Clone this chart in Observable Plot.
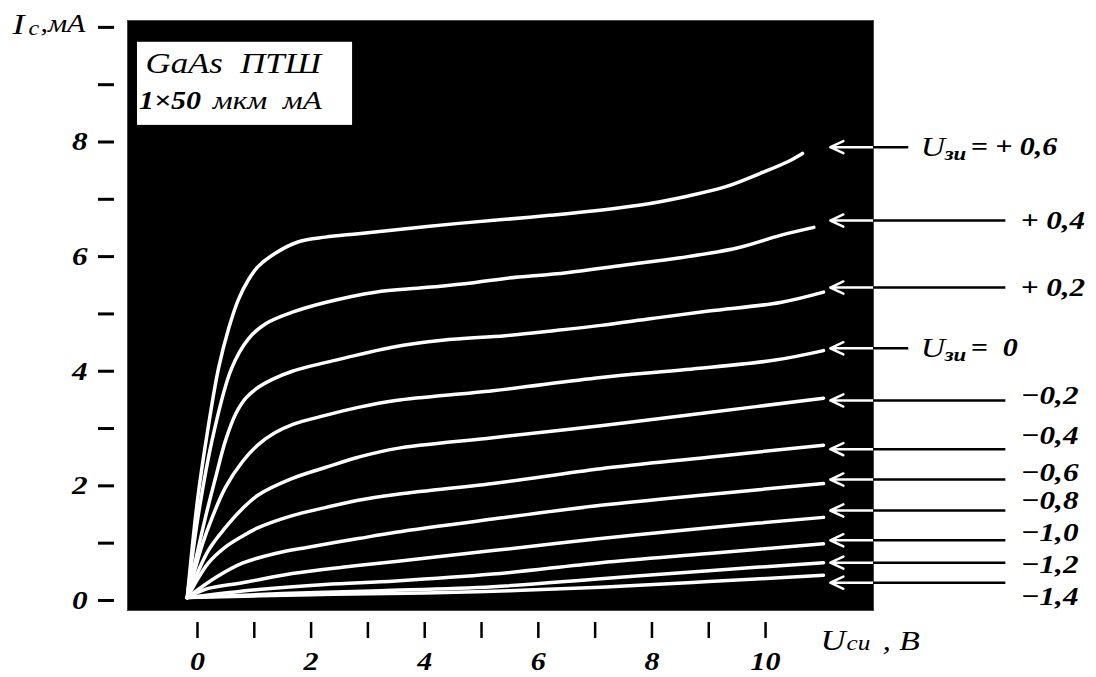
<!DOCTYPE html>
<html><head><meta charset="utf-8">
<script src="https://cdn.jsdelivr.net/npm/d3@7"></script>
<script src="https://cdn.jsdelivr.net/npm/@observablehq/plot@0.6"></script>
<style>
html,body{margin:0;padding:0;background:#fff;}
#chart{width:1096px;height:677px;}
</style></head><body><div id="chart"></div>
<script>
// Gate voltages U_зи (V) of the family of curves and their labels
const gateVoltages = [0.6, 0.4, 0.2, 0, -0.2, -0.4, -0.6, -0.8, -1.0, -1.2, -1.4];
const gateLabels = ["+ 0,6", "+ 0,4", "+ 0,2", "0", "−0,2", "−0,4", "−0,6", "−0,8", "−1,0", "−1,2", "−1,4"];
// Drain current I_c (mA) read at drain voltage U_си (V): [U_си, I_c]
const curveP06 = [[-0.18,0.05],[0.0,1.75],[0.18,2.97],[0.37,4.05],[0.55,4.75],[0.72,5.25],[0.90,5.60],[1.07,5.83],[1.37,6.06],[1.78,6.26],[2.25,6.34],[2.83,6.40],[3.71,6.49],[4.60,6.58],[5.42,6.65],[6.2,6.72],[7.0,6.80],[7.8,6.90],[8.6,7.05],[9.3,7.22],[9.9,7.45],[10.4,7.66],[10.65,7.80]];
const curveP04 = [[-0.18,0.05],[0.0,1.4],[0.28,2.9],[0.6,4.05],[0.90,4.57],[1.20,4.83],[1.67,5.03],[2.25,5.20],[3.13,5.38],[4.01,5.46],[4.89,5.55],[5.42,5.62],[6.5,5.72],[7.5,5.85],[8.5,5.98],[9.5,6.15],[10.26,6.37],[10.85,6.51]];
const curveP02 = [[-0.18,0.05],[0.14,1.45],[0.32,2.15],[0.49,2.78],[0.67,3.25],[0.85,3.53],[1.07,3.72],[1.3,3.85],[1.67,4.00],[2.55,4.22],[3.43,4.42],[4.31,4.54],[5.42,4.62],[6.3,4.71],[7.1,4.80],[8.0,4.92],[9.0,5.05],[10.26,5.20],[11.02,5.38]];
const curve0   = [[-0.18,0.05],[0.09,0.99],[0.26,1.45],[0.49,1.97],[0.79,2.42],[1.07,2.72],[1.37,2.93],[1.67,3.07],[2.25,3.23],[2.83,3.37],[3.49,3.49],[5.2,3.66],[7.10,3.89],[8.6,4.03],[10.14,4.19],[11.02,4.36]];
const curveM02 = [[-0.18,0.05],[0.19,0.87],[0.49,1.27],[0.79,1.60],[1.07,1.84],[1.67,2.13],[2.25,2.32],[2.83,2.50],[3.49,2.65],[5.2,2.84],[7.10,3.05],[9.0,3.28],[11.02,3.53]];
const curveM04 = [[-0.18,0.05],[0.19,0.65],[0.49,0.93],[0.79,1.12],[1.07,1.27],[1.67,1.48],[2.25,1.62],[2.83,1.75],[3.49,1.85],[5.2,2.04],[7.10,2.30],[9.0,2.50],[11.02,2.71]];
const curveM06 = [[-0.18,0.05],[0.32,0.40],[0.79,0.65],[1.37,0.82],[1.95,0.93],[2.83,1.08],[3.49,1.19],[5.2,1.42],[7.10,1.66],[9.0,1.85],[11.02,2.04]];
const curveM08 = [[-0.18,0.05],[0.19,0.21],[0.79,0.31],[1.67,0.47],[2.55,0.58],[3.49,0.68],[5.2,0.87],[7.10,1.08],[9.0,1.27],[11.02,1.45]];
const curveM10 = [[-0.18,0.05],[1.07,0.19],[2.25,0.28],[3.49,0.34],[5.2,0.46],[7.10,0.66],[9.0,0.82],[11.02,0.99]];
const curveM12 = [[-0.18,0.05],[1.5,0.12],[3.22,0.17],[5.2,0.24],[7.10,0.38],[9.0,0.52],[11.02,0.66]];
const curveM14 = [[-0.18,0.05],[2.0,0.10],[4.0,0.13],[5.5,0.17],[7.10,0.23],[9.0,0.33],[11.02,0.44]];
// Current levels (mA) pointed at by the arrows, and levels of their labels
const arrowLevels = [7.91, 6.63, 5.46, 4.40, 3.49, 2.64, 2.11, 1.57, 1.05, 0.66, 0.31];
const labelLevels = [7.91, 6.63, 5.46, 4.40, 3.58, 2.88, 2.23, 1.75, 1.19, 0.62, 0.06];
// Axis ticks
const xTicks = [0,1,2,3,4,5,6,7,8,9,10];
const yTicks = [0,1,2,3,4,5,6,7,8,9,10];
const boxLines = ["GaAs\u00a0\u00a0ПТШ", "1×50", "мкм\u00a0\u00a0мА"];

// ---- layout (data units) ----
const X0 = -1.232, X1 = 11.90, Y0 = -0.175, Y1 = 10.12;
const tipX = 11.14, shortEnd = 12.52, longEnd = 14.23, uLabelX = 12.73, valLabelX = 14.49;
const font = "'Liberation Serif', 'Times New Roman', serif";

const series = [curveP06, curveP04, curveP02, curve0, curveM02, curveM04, curveM06, curveM08, curveM10, curveM12, curveM14];
const rows = series.flatMap((pts, i) => pts.map(([u, ic]) => ({vg: gateVoltages[i], u, ic})));
const arrows = gateVoltages.map((vg, i) => ({vg, level: arrowLevels[i], labelLevel: labelLevels[i], label: gateLabels[i], withU: i === 0 || i === 3}));
const uRows = arrows.filter(d => d.withU);
const valRows = arrows.filter(d => !d.withU);

const plot = Plot.plot({
  width: 1096, height: 677,
  marginLeft: 127, marginRight: 223, marginTop: 20, marginBottom: 67,
  x: {domain: [X0, X1]},
  y: {domain: [Y0, Y1]},
  style: {fontFamily: font, background: "white", color: "black", overflow: "visible"},
  marks: [
    Plot.frame({fill: "black", stroke: "#444"}),
    Plot.axisX({ticks: xTicks, tickSize: 16, dy: 12, strokeWidth: 2.5, tickPadding: 14,
      tickFormat: d => d % 2 === 0 ? String(d) : "", fontSize: 25, fontWeight: "bold", fontStyle: "italic", label: null}),
    Plot.axisY({ticks: yTicks, tickSize: 16, dx: -13, strokeWidth: 3, tickPadding: 11,
      tickFormat: d => (d % 2 === 0 && d < 10) ? String(d) : "", fontSize: 26, fontWeight: "bold", fontStyle: "italic", label: null}),
    // Legend box
    Plot.rect([0], {x1: -1.056, x2: 2.73, y1: 9.74, y2: 8.29, fill: "white"}),
    Plot.text([boxLines[0]], {x: -0.915, y: 9.36, text: d => d, textAnchor: "start", fontSize: 29, fontStyle: "italic", fill: "black"}),
    Plot.text([boxLines[1]], {x: -1.03, y: 8.72, text: d => d, textAnchor: "start", fontSize: 25, fontStyle: "italic", fontWeight: "bold", fill: "black"}),
    Plot.text([boxLines[2]], {x: 0.27, y: 8.72, text: d => d, textAnchor: "start", fontSize: 26, fontStyle: "italic", fill: "black"}),
    // Curves
    Plot.line(rows, {x: "u", y: "ic", z: "vg", stroke: "white", strokeWidth: 3.5, curve: "catmull-rom"}),
    // Arrows
    Plot.arrow(arrows, {x1: X1, x2: tipX, y1: "level", y2: "level", stroke: "white", strokeWidth: 2.5, headLength: 24, headAngle: 50}),
    Plot.ruleY(arrows, {y: "level", x1: X1, x2: d => d.withU ? shortEnd : longEnd, stroke: "black", strokeWidth: 2.5}),
    // Labels
    Plot.text(uRows, {x: uLabelX, y: "level", text: () => "U", textAnchor: "start", fontSize: 28, fontStyle: "italic", fill: "black"}),
    Plot.text(uRows, {x: uLabelX, y: "level", text: () => "зи", textAnchor: "start", dx: 24, dy: 7, fontSize: 19, fontStyle: "italic", fontWeight: "bold", fill: "black"}),
    Plot.text(uRows, {x: uLabelX, y: "level", text: d => d.vg === 0 ? "=\u00a0\u00a0" + d.label : "= " + d.label, textAnchor: "start", dx: 50, fontSize: 25, fontWeight: "bold", fontStyle: "italic", fill: "black"}),
    Plot.text(valRows, {x: valLabelX, y: "labelLevel", text: "label", textAnchor: "start", fontSize: 26, fontWeight: "bold", fontStyle: "italic", fill: "black"}),
    // Axis titles
    Plot.text(["I"], {x: -3.257, y: 10.06, text: d => d, textAnchor: "start", fontSize: 30, fontStyle: "italic", fill: "black"}),
    Plot.text(["c"], {x: -3.257, y: 10.06, text: d => d, textAnchor: "start", dx: 16, dy: 5, fontSize: 20, fontStyle: "italic", fill: "black"}),
    Plot.text([",мА"], {x: -3.257, y: 10.06, text: d => d, textAnchor: "start", dx: 28, fontSize: 25, fontStyle: "italic", fill: "black"}),
    Plot.text(["U"], {x: 10.968, y: -0.70, text: d => d, textAnchor: "start", fontSize: 29, fontStyle: "italic", fill: "black"}),
    Plot.text(["си"], {x: 10.968, y: -0.70, text: d => d, textAnchor: "start", dx: 26, dy: 3, fontSize: 21, fontStyle: "italic", fill: "black"}),
    Plot.text([", B"], {x: 10.968, y: -0.70, text: d => d, textAnchor: "start", dx: 62, fontSize: 28, fontStyle: "italic", fill: "black"})
  ]
});

// Widen glyphs horizontally like the reference lettering
const stretch = 1.2;
plot.querySelectorAll("text").forEach(t => {
  const x = +(t.getAttribute("x") || 0);
  const tr = t.getAttribute("transform") || "";
  t.setAttribute("transform", `${tr} translate(${x},0) scale(${stretch},1) translate(${-x},0)`);
});
document.getElementById("chart").appendChild(plot);
</script></body></html>
